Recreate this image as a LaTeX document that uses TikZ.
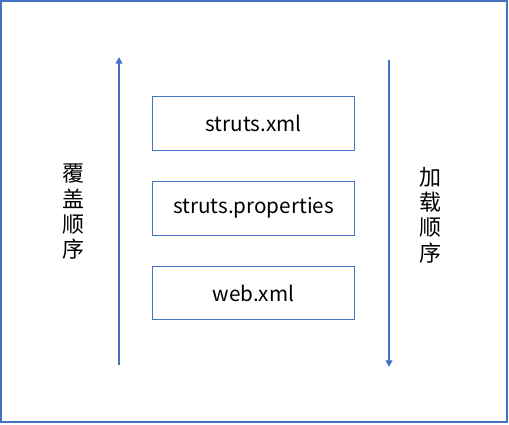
\documentclass[tikz,border=0pt]{standalone}
\usepackage{fontspec}
\setmainfont{Noto Sans CJK SC}
\usetikzlibrary{positioning,arrows.meta}
\definecolor{officeblue}{HTML}{4472C4}
\tikzset{
  filebox/.style={draw=officeblue, line width=0.6pt, minimum width=151.5pt, minimum height=40pt, font=\fontsize{15.5}{18}\selectfont},
  orderline/.style={draw=officeblue, line width=1.4pt, -{Triangle[width=5pt,length=5pt]}},
  ordertext/.style={align=center, font=\fontsize{16.5}{19}\selectfont}
}
\begin{document}
\begin{tikzpicture}[x=0.75pt,y=-0.75pt]
\useasboundingbox (0,0) rectangle (509,424);
\draw[officeblue, line width=0.8pt] (1,1) rectangle (507,422);

\node[filebox] (xml) at (253.5,123.5) {struts.xml};
\node[filebox] (props) [below=23pt of xml] {struts.properties};
\node[filebox] (web) [below=23pt of props] {web.xml};

\coordinate (lbot) at (119,365);
\coordinate (ltop) at (119,57);
\coordinate (rtop) at (389,60);
\coordinate (rbot) at (389,367);

\draw[orderline] (lbot) -- (ltop);
\draw[orderline] (rtop) -- (rbot);

\node[ordertext] (cover) at (73,212) {覆\\盖\\顺\\序};
\node[ordertext] (load) at (430,215) {加\\载\\顺\\序};
\end{tikzpicture}
\end{document}
